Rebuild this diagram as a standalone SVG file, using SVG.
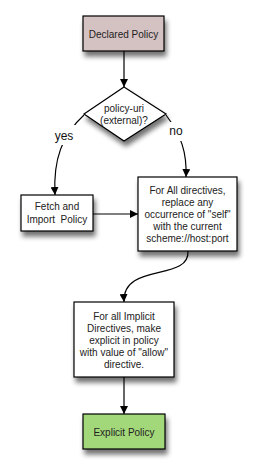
<svg xmlns="http://www.w3.org/2000/svg" width="256" height="474" viewBox="0 0 256 474">
<defs>
<filter id="sh" x="-20%" y="-20%" width="150%" height="160%">
<feGaussianBlur in="SourceAlpha" stdDeviation="2.5"/>
<feOffset dx="2" dy="5" result="b"/>
<feComponentTransfer><feFuncA type="linear" slope="0.55"/></feComponentTransfer>
<feMerge><feMergeNode/><feMergeNode in="SourceGraphic"/></feMerge>
</filter>
<marker id="ah" viewBox="0 0 10 10" refX="10" refY="5" markerWidth="8" markerHeight="8" markerUnits="userSpaceOnUse" orient="auto">
<path d="M0,0 L10,5 L0,10 z" fill="#000"/>
</marker>
</defs>
<style>
.n{stroke:#000;stroke-width:1.2;filter:url(#sh)}
.t{font-family:"Liberation Sans",Arial,sans-serif;font-size:10px;fill:#222;text-anchor:middle}
.c{fill:none;stroke:#000;stroke-width:1.2;marker-end:url(#ah)}
.lb{font-family:"Liberation Sans",Arial,sans-serif;font-size:12px;fill:#111;text-anchor:middle}
</style>
<g id="connectors">
<path class="c" d="M124,51 L124,87"/>
<path class="c" d="M84,115 C62,135 53,160 55,195"/>
<path class="c" d="M166,115 C181,135 187,152 186,177"/>
<path class="c" d="M93,214 L138,214"/>
<path class="c" d="M188,251 C190,282 122,262 124,302"/>
<path class="c" d="M124,377 L124,414"/>
<rect x="53" y="125" width="23" height="20" fill="#fff"/>
<rect x="167" y="122" width="18" height="19" fill="#fff"/>
<text class="lb" x="64" y="140">yes</text>
<text class="lb" x="176" y="135">no</text>
</g>
<g id="declared">
<rect class="n" x="83" y="16" width="81" height="35" fill="#d4c1c1"/>
<text class="t" x="123.5" y="37.5">Declared Policy</text>
</g>
<g id="decision">
<polygon class="n" points="124,87 166,114 124,141 84,114" fill="#fff"/>
<text class="t" x="124" y="112">policy-uri</text>
<text class="t" x="124" y="124">(external)?</text>
</g>
<g id="fetch">
<rect class="n" x="21" y="195" width="72" height="36" fill="#fff"/>
<text class="t" x="57" y="210">Fetch and</text>
<text class="t" x="57" y="223" xml:space="preserve">Import  Policy</text>
</g>
<g id="replace">
<rect class="n" x="138" y="177" width="99" height="74" fill="#fff"/>
<text class="t" x="187.5" y="194">For All directives,</text>
<text class="t" x="187.5" y="206">replace any</text>
<text class="t" x="187.5" y="218">occurrence of "self"</text>
<text class="t" x="187.5" y="230">with the current</text>
<text class="t" x="187.5" y="242">scheme://host:port</text>
</g>
<g id="implicit">
<rect class="n" x="74" y="302" width="100" height="75" fill="#fff"/>
<text class="t" x="124" y="320">For all Implicit</text>
<text class="t" x="124" y="332">Directives, make</text>
<text class="t" x="124" y="344">explicit in policy</text>
<text class="t" x="124" y="356">with value of "allow"</text>
<text class="t" x="124" y="368">directive.</text>
</g>
<g id="explicit">
<rect class="n" x="83" y="414" width="82" height="35" fill="#a3d87a"/>
<text class="t" x="124" y="436">Explicit Policy</text>
</g>
</svg>
